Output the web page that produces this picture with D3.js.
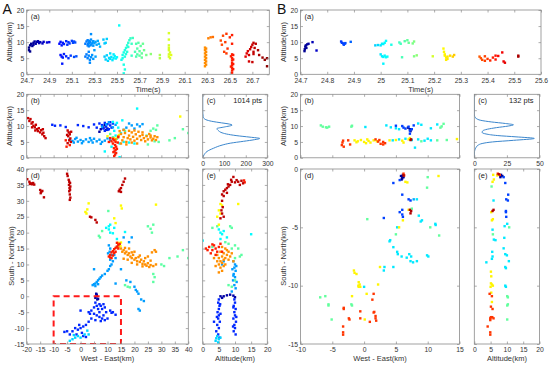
<!DOCTYPE html>
<html><head><meta charset="utf-8">
<script src="https://cdn.jsdelivr.net/npm/d3@7"></script>
<style>body{margin:0;background:#fff;} text{font-family:"Liberation Sans",Arial,Helvetica,sans-serif;}</style>
</head><body><svg id="c" width="550" height="365"></svg>
<script>
// ---------- tick labels ----------
const A_timeTicks = [24.7,24.9,25.1,25.3,25.5,25.7,25.9,26.1,26.3,26.5,26.7];
const B_timeTicks = [24.7,24.8,24.9,25.0,25.1,25.2,25.3,25.4,25.5,25.6];
const altTicks = [0,5,10,15,20];
const A_weTicks = [-20,-15,-10,-5,0,5,10,15,20,25,30,35,40];
const A_snTicks = [-15,-10,-5,0,5,10,15,20,25,30,35,40];
const A_cntTicks = [0,100,200,300];
const B_weTicks = [-10,-5,0,5,10,15];
const B_snTicks = [-15,-10,-5,0];
const B_cntTicks = [0,25,50];
const A_pts = "1014 pts";
const B_pts = "132 pts";

// ---------- A (a): [time, altitude] ----------
const A_a = [
[24.72,7.5],[24.72,8.3],[24.73,9.0],[24.74,9.5],[24.75,8.8],[24.76,9.8],[24.77,10.2],[24.78,9.5],[24.80,10.3],[24.81,9.7],[24.82,10.0],[24.84,9.6],[24.85,10.1],[24.88,9.9],[24.90,10.0],[24.73,7.1],[24.76,9.2],[24.79,10.1],
[24.99,9.5],[25.00,10.1],[25.01,9.0],[25.02,9.8],[25.03,9.4],[25.05,10.3],[25.06,9.2],[25.07,10.0],[25.08,9.6],[25.10,10.4],[25.11,9.8],[25.12,10.2],[25.13,9.9],[25.00,6.0],[25.01,5.5],[25.02,5.2],[25.03,6.3],[25.05,5.6],[25.07,5.0],[25.09,5.8],[25.12,5.4],[25.14,5.6],[25.015,3.3],
[25.22,9.5],[25.23,10.2],[25.24,9.0],[25.24,10.6],[25.25,9.8],[25.25,8.7],[25.26,10.0],[25.27,9.3],[25.27,10.8],[25.28,9.6],[25.29,8.9],[25.29,10.3],[25.30,9.7],[25.31,10.1],[25.32,9.2],[25.33,10.4],[25.34,9.5],[25.35,8.6],[25.27,12.5],[25.38,10.8],[25.39,9.6],[25.41,11.0],[25.40,9.8],[25.22,5.5],[25.23,6.2],[25.24,5.0],[25.25,5.8],[25.26,4.5],[25.27,5.3],[25.28,6.0],[25.29,4.8],[25.26,3.6],[25.31,5.5],[25.25,7.0],[25.30,7.5],[25.245,9.4],[25.265,9.0],[25.285,10.0],[25.255,10.4],
[25.39,5.5],[25.40,4.6],[25.41,5.9],[25.42,4.2],[25.43,5.1],[25.44,4.8],[25.45,5.4],[25.46,4.4],[25.47,5.0],[25.48,5.7],[25.49,4.9],[25.50,5.3],[25.44,6.5],[25.47,6.2],[25.52,15.2],[25.56,0.3],
[25.54,4.5],[25.55,5.0],[25.55,6.0],[25.56,3.0],[25.56,6.8],[25.57,5.5],[25.57,7.5],[25.58,8.2],[25.58,6.3],[25.59,9.0],[25.59,7.0],[25.60,9.8],[25.60,8.5],[25.61,10.6],[25.62,11.2],[25.63,9.5],[25.57,1.5],[25.64,11.3],[25.63,5.8],
[25.66,7.0],[25.67,9.5],[25.67,5.5],[25.68,8.0],[25.68,6.2],[25.69,9.8],[25.70,7.2],[25.70,5.8],[25.71,8.8],[25.72,6.5],[25.73,9.5],[25.74,7.5],[25.76,6.0],[25.80,6.3],[25.72,5.2],
[25.88,6.0],[25.88,5.0],[25.96,12.8],[25.96,10.8],[25.96,9.0],[25.96,7.5],[25.96,6.2],[25.96,5.5],[25.97,6.8],[25.97,5.0],[25.98,6.0],[25.96,8.2],
[26.28,2.5],[26.28,3.5],[26.28,4.5],[26.28,5.5],[26.28,6.5],[26.28,7.5],[26.28,8.3],[26.29,3.0],[26.29,4.0],[26.29,5.0],[26.29,6.0],[26.29,7.0],[26.29,8.0],[26.31,11.2],[26.33,11.5],[26.35,11.6],
[26.42,10.5],[26.43,9.2],[26.44,12.0],[26.45,7.0],[26.46,10.0],[26.47,12.6],[26.47,6.5],[26.48,8.0],[26.50,11.5],[26.52,12.2],[26.52,9.5],[26.53,6.0],[26.52,0.5],[26.52,1.2],[26.52,2.0],[26.52,2.8],[26.52,3.5],[26.52,4.3],[26.52,5.0],[26.53,1.6],[26.53,3.2],[26.53,4.6],[26.51,2.4],[26.51,5.6],[26.52,6.2],
[26.64,5.5],[26.65,6.5],[26.66,7.2],[26.67,6.0],[26.67,4.0],[26.68,7.8],[26.69,8.5],[26.70,9.2],[26.71,7.0],[26.71,9.8],[26.72,8.2],[26.73,9.5],[26.71,6.3],[26.76,6.0],[26.79,5.2],[26.81,4.5],[26.83,2.5],[26.83,5.0],[26.70,3.8],[26.75,7.5]
];

// ---------- A (b): groups [time, [[west-east, altitude]...]] ----------
const A_b = [
[24.78,[[7.5,9.0],[8,10.0],[8.5,9.5],[9,10.3],[9.5,8.8],[7,8.2],[10,9.2]]],
[25.05,[[-10.5,10.4],[-9.5,10.1],[-7.5,10.2],[-5.5,9.7],[-1,10.3],[1,10.0],[3,9.6],[5,10.5],[6,9.5],[7,10.8],[8,10.3],[8.5,9.2],[9,11.0],[9.5,9.8],[10,10.6],[10.5,9.0],[11,10.2],[11.5,9.5],[12,10.8],[9,8.5],[10,8.8],[11,11.2]]],
[25.3,[[-4,5.8],[-3,5.3],[-2,5.9],[-1,5.1],[0,5.6],[1,5.2],[2,5.8],[3,5.0],[4,5.5],[5,6.0],[6,5.2],[7,5.7],[8,5.0],[9,5.4],[10,6.1],[-2.5,4.8],[0.5,4.6],[4.5,4.8],[7.5,4.4],[-1.5,6.3],[3.5,6.2],[11,5.5],[8,9.8],[9.5,10.5],[10.5,11.2],[12,9.6],[13,10.4],[18,10.8],[19,10.2],[21,10.5],[22,9.9],[23,10.6],[17,9.5],[20,9.2],[16,8.8]]],
[25.5,[[12,11.3],[13.5,11.0],[14,9.5],[12.5,8.5],[15,7.8],[13,7.0],[14.5,4.5],[11.5,3.5],[16,5.0],[18,4.8],[20,4.5],[15.5,11.8],[21,15.5],[13,1.5],[14.5,0.2],[9,2.0]]],
[25.7,[[11,7.5],[12,6.5],[13.5,6.0],[16.5,8.5],[24.5,7.0],[26,8.5],[27,9.2],[28,8.8],[28.5,10.2],[27.5,5.2],[29,5.0],[33,5.5],[35,6.2],[38,9.0],[40,7.8],[25,4.2]]],
[26.05,[[12.5,6.2],[13,5.8],[13.8,6.5],[14.2,7.2],[10,6.8],[37,13.0]]],
[26.28,[[13,5.8],[14,6.8],[15,7.5],[15.5,5.5],[16,6.5],[16.5,7.8],[17,5.0],[17.5,6.2],[18,7.0],[18.5,5.8],[19,8.0],[19.5,6.6],[20,5.4],[20.5,7.4],[21,6.0],[21.5,8.2],[22,6.8],[22.5,5.6],[23,7.2],[23.5,6.2],[24,5.2],[24.5,6.8],[25,5.8],[25.5,7.5],[26,6.4],[26.5,5.5],[27,6.0],[27.5,6.8],[28,5.6],[15,4.5],[17,4.2],[19,4.8],[21,4.5],[14.5,8.4],[16,8.8],[18,8.5],[20,8.6],[23,8.0],[26,7.0],[28.5,6.5]]],
[26.52,[[12,6.0],[12.5,5.5],[13,5.0],[12,4.5],[12.8,4.0],[13.2,3.5],[12.4,3.0],[13,2.5],[12.6,2.0],[13.2,1.5],[12.8,1.0],[12.5,0.5],[11.5,5.2],[13.8,4.8],[11,6.2],[14,6.5],[10.5,5.0],[13.5,2.8],[12.2,1.8],[-5.5,5.5],[-4,4.0],[-5.2,3.5]]],
[26.7,[[-19.5,12.5],[-19,11.6],[-18.6,12.2],[-18.2,10.8],[-17.8,11.2],[-17.5,10.1],[-17,9.6],[-16.6,10.4],[-16.2,9.0],[-15.8,8.4],[-15.5,9.3],[-15,8.0],[-14.6,8.7],[-14.2,7.4],[-13.8,7.9],[-13.5,6.8],[-13,6.2],[-14,9.0],[-16.8,8.6],[-18,9.6],[-4.8,8.6],[-4.4,8.0],[-4.0,7.4],[-4.6,6.8],[-3.8,6.1],[-4.2,5.5],[-3.6,5.0],[-4.8,4.6],[-5,7.2],[-3.5,8.2]]]
];

// ---------- A (c): [altitude, count] ----------
const A_c = [[0,0],[0.5,3],[1.4,11],[2,20],[3,50],[4,90],[4.6,128],[5.2,190],[5.7,240],[6.1,265],[6.5,220],[7,155],[7.5,110],[8,85],[8.5,74],[9.2,66],[9.7,100],[10.3,137],[10.7,118],[11,88],[11.5,42],[12,15],[12.5,5],[13,2],[14,0.5],[15,0],[20,0]];

// ---------- A (d): groups [time, [[west-east, south-north]...]] ----------
const A_d = [
[24.78,[[6,0.5],[6,0],[5.5,-0.5],[6.2,-1],[5.8,0.8],[6.5,-0.8]]],
[25.05,[[5.5,-2],[6,-3],[5,-3.5],[7,-2.5],[7.5,-3],[8,-4],[9,-3.5],[9.5,-5],[11,-4.5],[12,-5],[4,-4.5],[3.5,-5.5],[5,-5.5],[6,-6],[7,-6.5],[8,-7],[9,-7.5],[10,-7],[5.5,-7.5],[4,-7],[3,-8],[2,-9],[1,-9.5],[0,-10],[-0.5,-9],[-1,-10.5],[-2,-10],[-3,-11],[-5,-11],[-6,-11.2],[-4,-12],[0.5,-11.5],[1,-12.5],[2,-12.8],[-1.5,-12],[7.5,-7.8],[3,-5],[8.5,-2.5],[11.5,-5.2],[13,-5.8],[0,-4.5],[6.5,-4],[7,-5],[8.5,-6]]],
[25.3,[[10.5,16],[11,15],[10.8,14],[11.5,13],[10.2,13.5],[12,11],[11.5,10],[11,9.5],[10.5,8.5],[10,8],[9,7],[8,6.5],[7.5,6],[7,5.5],[6.5,5],[6,4.5],[5.5,4],[5,3.8],[4.5,3.5],[5.5,3.2],[6.5,3.8],[5,8.5],[19,18.5],[18,17],[17,5],[18.5,4.5],[20,3],[20.5,2],[21,1.5],[21.5,0.8],[22.5,-1],[23.5,-1.5],[22,-4.5],[21.5,-4],[14.5,16],[13.5,15.5],[13,4],[15,8.5],[12.5,13],[13,12],[11,11.5],[16,18.5]]],
[25.42,[[-3,-13.5],[-2,-13],[-1,-12.5],[0,-13],[1.5,-12],[-4,-14],[2.5,-10.8],[3,-12],[-2.5,-12.2]]],
[25.5,[[9.5,21.5],[10.5,22],[11,22.5],[10.5,21],[11,20],[12,19.8],[13.5,18],[16.5,20.2],[12.5,21.5]]],
[25.7,[[10.3,26.8],[6.8,19],[7.2,18.5],[8,20.5],[25,22],[26,21.2],[27,22.5],[26.5,20],[27,7],[27.5,6],[27,4.5],[38,14.5],[40,12],[36,12.5],[33,12],[30,10],[31,9.5],[16.5,3.5],[17.5,3],[18.3,2.8]]],
[26.05,[[1.8,26.5],[2.2,26],[3,29.2],[2.5,27.3],[15,28.5],[15.3,27.6],[28,28.8],[12.5,24.5],[13,23],[14,16.8],[15,16.9],[14.8,15.8]]],
[26.28,[[14,15.5],[15,15],[15.5,14],[16,14.5],[16.5,13.5],[17,14],[17.5,13],[18,13.5],[18.5,12.5],[19,12],[19.5,13],[20,11.5],[20.5,12],[21,11],[21.5,12.3],[22,10.8],[22.5,11.5],[23,10.2],[23.5,11],[24,10],[24.5,9.6],[25,10.4],[25.5,9.2],[26,9.8],[27,9.5],[28,10],[27.5,14.5],[28,14],[26.5,13.8],[25,12.5],[19,10.5],[21,10],[16,11.8],[17.5,11.5],[18,15],[20,14],[22,12.8],[24,12],[23,9.4],[26,11.2],[16.5,15.2],[19,13.8]]],
[26.52,[[10.5,12.5],[11,13],[11.5,13.8],[12,14.2],[12.5,14.8],[13,15.2],[13.5,15.6],[14,16.2],[14.5,16.5],[12,12.8],[13,14],[11.5,12],[14,15],[13.5,16.8],[12.5,13.6],[11,12.2]]],
[26.72,[[-19.8,36.8],[-19,36],[-18.5,35.5],[-18,35.2],[-17.6,35.6],[-17.2,35.1],[-18.8,35.3],[-15,33.4],[-14.6,32.8],[-14.2,33.1],[-14.8,32.4],[-13.6,31.1],[-5,38.5],[-4.8,37.8],[-4.4,36.6],[-4.2,36],[-3.9,35.6],[-4.3,35],[-3.8,34.5],[-4.1,34],[-3.9,33.5],[-4.2,33],[-4,32],[-3.8,31],[-4,30.3],[16.5,37],[16,36],[15.5,35],[15,34],[14.5,33.5],[14.2,33],[15,32.8],[3.5,25],[4,24.8],[5.5,24],[6,23.2]]]
];

// ---------- A (e): groups [time, [[altitude, south-north]...]] ----------
const A_e = [
[24.78,[[5.5,0],[6.5,0],[7.5,0.3],[8.5,0.5],[9.5,0.2],[10,-0.3],[6,-0.5]]],
[25.05,[[5,-1],[4.8,-2],[5.2,-3],[5,-4],[4.6,-5],[5,-6],[4.8,-7],[5.3,-8],[4.5,-9],[5,-10],[4.2,-11],[4.8,-12],[5.2,-13],[3.5,-8],[5.5,-5.5],[9.8,-1],[10,-2],[9.6,-3],[10.2,-4],[9.8,-5],[10,-6],[9.5,-7],[10.3,-8],[9.8,-9],[10,-10],[9.6,-11],[10.2,-12],[9.5,-3.5],[5.4,-2.5],[4.4,-6.5],[10.4,-6.5],[9.4,-9.5]]],
[25.3,[[9.5,11],[10,10],[9.8,9],[10.2,8],[9.6,7],[10,6],[9.4,5],[10.5,4.5],[9.8,3.5],[10.2,2.5],[9,1.5],[9.5,6.5],[6.5,11],[6,10],[10.4,9.5],[9.2,8.5]]],
[25.42,[[4.5,-12.5],[5,-13.5],[4,-14],[5.5,-13],[4.8,-14.5],[4.2,-13.2]]],
[25.5,[[5,21],[5.5,20],[6,19.5],[6.5,20.5],[15,19.5],[0,17.5],[7.5,18.5],[5.5,18]]],
[25.7,[[3,21.5],[4.5,22],[8.5,22],[9,21.5],[10,16],[11,15],[12,13],[11.5,12.5],[9,15],[10,12],[7,17],[8,16.5],[8,3.5],[9,3],[10,5],[3,15.5]]],
[26.05,[[5.5,29],[6,28.5],[5,27],[5.5,26],[4.5,25],[11,29],[5,22.5]]],
[26.28,[[5,12],[5.5,11],[6,12.5],[6.5,11.5],[7,12],[7.5,13],[5,10],[6,10.5],[7,10],[8,11.5],[8.5,12.5],[9,13.5],[5.5,9],[4.5,11],[6.5,9.5],[7.5,14.5],[6,15.5],[8,14],[4,9.5],[3.5,12],[9.5,11],[6.5,13.5],[5.5,14],[7,15],[4.5,13],[5,7.5],[6,8]]],
[26.52,[[1,15],[2,15.5],[3,14.5],[3.5,16],[4,15],[4.5,14],[5,15.5],[2.5,13.5],[4,13],[5.5,16.5],[1.5,14.5],[6,14],[3,16.3],[13,35.8],[12.8,36.4]]],
[26.72,[[9,36],[10,35.8],[11,36],[12,36.3],[12.5,35.5],[8.5,35],[7.5,34],[7,33.5],[6.5,33],[6,32],[6.5,31.5],[7.5,32.5],[8,34.5],[11.5,35],[10.5,36.5],[9.5,37.5],[6,30],[6.2,28],[5.8,27],[6,26],[6.5,25],[5.5,24.5],[8.8,36.6],[7.8,35.2]]]
];

// ---------- B (a): [time, altitude] ----------
const B_a = [
[24.715,7.2],[24.716,7.8],[24.718,8.6],[24.72,9.0],[24.722,8.2],[24.725,9.3],[24.73,9.5],[24.745,10.0],[24.76,7.4],
[24.852,10.2],[24.855,9.8],[24.86,9.6],[24.862,9.2],[24.865,9.5],[24.868,9.7],[24.888,10.1],
[24.98,9.0],[24.99,9.1],[25.0,9.0],[25.01,9.4],[25.015,9.8],[25.02,10.4],[25.04,9.2],[25.005,9.5],[25.0,6.2],[25.005,5.6],[25.01,5.4],[25.015,5.8],[25.02,5.3],[25.025,5.5],[25.01,3.3],
[25.07,9.9],[25.075,9.5],[25.09,10.3],[25.1,10.6],[25.105,9.8],[25.12,9.6],[25.125,10.2],[25.08,5.3],[25.125,5.6],[25.135,5.9],
[25.195,5.6],[25.235,8.0],[25.237,7.0],[25.24,6.2],[25.24,5.8],[25.245,5.2],[25.25,4.8],[25.25,5.5],[25.26,5.8],[25.27,5.5],[25.275,6.0],[25.245,4.5],
[25.37,5.5],[25.375,5.0],[25.38,4.5],[25.39,4.2],[25.39,5.6],[25.4,4.8],[25.41,4.3],[25.42,5.2],[25.43,5.8],[25.43,4.6],[25.455,6.8],[25.46,4.0],[25.465,3.6],[25.44,5.7],
[25.515,5.5],[25.515,5.8]
];

// ---------- B (b): groups [time, [[west-east, altitude]...]] ----------
const B_b = [
[24.72,[[7.2,9.0],[7.3,8.4],[6.9,9.5]]],
[24.86,[[6,10],[6.5,9.2],[7,9.8],[7.5,9.0],[7.2,8.6],[6.2,9.5],[7.8,10.2],[5,10.1],[7.2,7.6]]],
[25.0,[[0.2,9.7],[4.5,5.5],[5.5,5.8],[6.5,6.0],[7.5,5.6],[8.5,5.8],[9.5,5.4],[10,6.0],[10.5,5.5],[8,3.2],[3.5,10.2],[5,9.3],[5.5,9.0],[8.5,10.8],[9,10.4],[10.5,9.3],[11.5,10.5],[4.2,9.6]]],
[25.1,[[-6.8,10.2],[-6.5,9.8],[-6,9.6],[-5.5,9.8],[-5.8,9.5],[-1.9,10.1],[-2,9.8],[9,5.2],[11.5,5.5],[12,9.5],[12.2,9.9],[12.5,10.7],[13,5.6]]],
[25.24,[[-1.5,5.5],[-1,5.2],[-0.5,5.6],[0,5.0],[0.3,4.6],[0.7,5.3],[1.0,4.8],[1.5,5.5],[2,5.2],[-1.2,4.9],[0.5,5.8],[4,5.5],[5,5.6],[6,5.4],[7,5.8],[6.2,4.8],[14.6,5.9],[7.2,6.2]]],
[25.4,[[-3.5,4.0],[-3.4,4.8],[-3.3,5.4],[-2.5,5.5],[-2.2,4.2],[-3.2,3.5],[1.8,5.8],[2.2,5.1],[2.6,4.4],[3,5.0],[3.3,4.6],[2.4,5.6],[3.0,4.2]]],
[25.51,[[7.3,5.6],[7.4,5.8]]]
];

// ---------- B (c): [altitude, count] ----------
const B_c = [[0,0],[2,0.2],[3,1],[4,3],[4.5,6],[5,14],[5.5,30],[6.1,46],[6.6,32],[7,18],[7.5,9],[8,6],[8.5,6.5],[9,10],[9.5,17],[10,26],[10.4,30],[10.8,24],[11.3,13],[11.8,5],[12.4,1.5],[13,0.3],[14,0],[20,0]];

// ---------- B (d): groups [time, [[west-east, south-north]...]] ----------
const B_d = [
[24.72,[[5.8,-0.6],[6.0,-0.8],[6.1,-0.5],[5.9,-0.9],[6.2,-0.7],[6.0,-0.65]]],
[24.86,[[4.6,-1.2],[5.6,-0.95],[6,-2.2],[7,-2.6],[7.3,-2.7],[6,-3.5],[5.6,-3.7],[6,-3.9],[6.1,-4.1],[3.1,-4.2]]],
[24.95,[[7.8,-2.6]]],
[25.0,[[8.3,-2.6],[8.6,-4.0],[9.1,-4.4],[8.9,-4.5],[11.2,-4.7],[11.25,-4.8],[5.2,-5.0],[4.1,-6.1],[4.0,-6.2],[4.6,-6.7],[5.2,-7.1],[5.3,-7.3],[5.9,-7.5],[6.7,-7.6],[7.1,-7.3],[7.4,-7.5],[7.3,-7.9],[7.7,-8.0],[8.3,-7.9],[9.9,-7.4],[10.1,-7.5],[3.2,-8.4],[3.1,-8.7],[4.6,-8.4],[0,-10.1]]],
[25.1,[[10,-0.7],[9.9,-1.6],[7.5,-3.4],[11.8,-5.7],[10.4,-5.0],[0.5,-4.3],[5.0,-5.6],[-6.9,-11.0],[-6.1,-10.9],[-5.6,-11.6],[-5.6,-11.7],[-5.1,-12.9],[-2,-11.6],[-1.9,-11.7]]],
[25.24,[[6.5,-1.1],[6.8,-1.15],[11.7,-0.6],[7.0,-3.5],[6.1,-4.4],[5.5,-5.0],[2.5,-8.4],[-1.6,-8.7],[-1.5,-8.9],[-1.2,-9.0],[-0.85,-9.7],[-0.7,-9.9],[-0.6,-10.1],[-0.85,-10.1],[2.2,-9.9],[0.4,-10.7],[-1.9,-10.9],[0.1,-12.9],[-0.9,-10.0]]],
[25.4,[[6.2,-0.4],[6.3,-0.55],[1.5,-10.7],[1.3,-11.2],[-3.2,-11.9],[-3.2,-12.0],[-2.4,-12.8],[-2.3,-12.9],[-0.6,-12.2],[-0.6,-12.8],[1.5,-12.3],[1.6,-12.25],[1.8,-12.6],[1.8,-12.8],[1.9,-13],[0.9,-13.1],[-3.3,-13.5],[-3.3,-14.0],[-3.3,-14.2]]],
[25.51,[[7.2,-3.5],[7.4,-3.6],[7.3,-3.8],[6.2,-0.55]]]
];

// ---------- B (e): groups [time, [[altitude, south-north]...]] ----------
const B_e = [
[24.72,[[8.2,-0.5],[8.6,-0.6],[8.0,-0.7]]],
[24.86,[[9.0,-0.7],[9.5,-1.2],[10.4,-2.2],[9.8,-2.6],[10.3,-2.7],[9.7,-3.6],[9.7,-3.7],[9.8,-4.1]]],
[25.0,[[5.9,-2.7],[10.1,-4.7],[9.3,-4.9],[5.6,-5.2],[9.2,-5.9],[6.5,-6.1],[6.0,-6.05],[5.5,-7.1],[5.6,-7.5],[5.4,-7.7],[3.7,-8.0],[9.0,-6.8],[9.5,-7.3],[10,-7.4],[10.6,-7.9],[9.5,-8.4],[9.7,-8.5],[9.5,-10.0],[9.7,-10.1]]],
[25.1,[[5.3,-1.5],[10.7,-5.0],[5.7,-5.6],[10.1,-10.9],[10.3,-11.0],[10.3,-11.6],[10.1,-11.7],[10.1,-12.9]]],
[25.24,[[7.0,-0.55],[5.8,-0.5],[6.0,-0.9],[5.6,-1.1],[5.2,-3.7],[5.4,-4.4],[5.7,-4.3],[5.1,-8.8],[5.2,-9.2],[5.1,-9.8],[5.4,-9.9],[5.0,-10.1],[5.7,-10.0],[5.2,-10.6],[5.4,-11.4]]],
[25.4,[[7.2,-0.4],[7.8,-0.5],[4.7,-10.7],[5.4,-10.9],[5.1,-11.8],[5.6,-12.0],[5.1,-12.7],[4.9,-12.8],[5.5,-12.7],[5.9,-12.8],[4.9,-12.95],[4.1,-13.5],[4.9,-14.0],[4.9,-14.2]]],
[25.51,[[7.5,-0.45],[5.6,-3.6],[5.9,-3.5]]]
];

// time range used for the jet colour map
const A_tRange = [24.7, 26.85];
const B_tRange = [24.7, 25.55];
// red dashed box in A(d): [[we0,we1],[sn0,sn1]]
const A_box = [[-10,15],[-15,0]];

// ---------- drawing ----------
const svg = d3.select("#c");
function jet(v){
  const c = u => Math.max(0, Math.min(1, u));
  return d3.rgb(255*c(1.5-Math.abs(4*v-3)), 255*c(1.5-Math.abs(4*v-2)), 255*c(1.5-Math.abs(4*v-1))).toString();
}
const AXC = "#8a8a8a", TXT = "#333";
let clipId = 0;

function panel(p){
  const g = svg.append("g");
  const x = d3.scaleLinear().domain(p.xd).range([p.x0, p.x1]);
  const y = d3.scaleLinear().domain(p.yd).range([p.y1, p.y0]);
  const id = "clip" + (clipId++);
  g.append("clipPath").attr("id", id).append("rect")
    .attr("x", p.x0).attr("y", p.y0).attr("width", p.x1-p.x0).attr("height", p.y1-p.y0);
  const body = g.append("g").attr("clip-path", `url(#${id})`);
  const fs = 6.8;
  function style(sel){
    sel.select(".domain").remove();
    sel.selectAll(".tick line").attr("stroke", AXC).attr("stroke-width", 0.7);
    sel.selectAll(".tick text").attr("fill", TXT).style("font-size", fs+"px")
      .style("font-family", '"Liberation Sans",Arial,sans-serif');
  }
  const fx = p.xfmt || (d => String(d));
  const fy = p.yfmt || (d => String(d));
  g.append("g").attr("transform", `translate(0,${p.y1})`)
    .call(d3.axisBottom(x).tickValues(p.xt).tickSizeInner(-2.5).tickSizeOuter(0).tickPadding(3.4)
      .tickFormat(p.xlabels ? fx : () => "")).call(style);
  g.append("g").attr("transform", `translate(0,${p.y0})`)
    .call(d3.axisTop(x).tickValues(p.xt).tickSizeInner(-2.5).tickSizeOuter(0).tickFormat(() => "")).call(style);
  g.append("g").attr("transform", `translate(${p.x0},0)`)
    .call(d3.axisLeft(y).tickValues(p.yt).tickSizeInner(-2.5).tickSizeOuter(0).tickPadding(2.4)
      .tickFormat(p.ylabels ? fy : () => "")).call(style);
  g.append("g").attr("transform", `translate(${p.x1},0)`)
    .call(d3.axisRight(y).tickValues(p.yt).tickSizeInner(-2.5).tickSizeOuter(0).tickFormat(() => "")).call(style);
  g.append("rect").attr("x", p.x0).attr("y", p.y0).attr("width", p.x1-p.x0).attr("height", p.y1-p.y0)
    .attr("fill", "none").attr("stroke", AXC).attr("stroke-width", 0.8);
  if (p.tag) g.append("text").attr("x", p.x0+4).attr("y", p.y0+9).attr("fill", "#222")
    .style("font-size", "7.5px").text(p.tag);
  return {g, body, x, y};
}

function dots(P, pts, tr){
  const s = 2.4;
  pts.sort((a,b) => a.t - b.t);
  P.body.selectAll("rect.d").data(pts).join("rect").attr("class","d")
    .attr("x", d => P.x(d.u) - s/2).attr("y", d => P.y(d.v) - s/2)
    .attr("width", s).attr("height", s)
    .attr("fill", d => jet((d.t - tr[0])/(tr[1]-tr[0])));
}
const fromTime = arr => arr.map(d => ({u:d[0], v:d[1], t:d[0]}));
const fromGroups = arr => arr.flatMap(([t, list]) => list.map(d => ({u:d[0], v:d[1], t})));

function density(P, data){
  P.body.append("path").datum(data)
    .attr("d", d3.line().x(d => P.x(d[1])).y(d => P.y(d[0])).curve(d3.curveMonotoneY))
    .attr("fill", "none").attr("stroke", "#3b86cc").attr("stroke-width", 1);
}
function label(x, y, txt, rot, size){
  const t = svg.append("text").attr("text-anchor", "middle").attr("fill", "#333")
    .style("font-size", (size||7.5)+"px").text(txt);
  if (rot) t.attr("transform", `translate(${x},${y}) rotate(-90)`).attr("dy", "0.35em");
  else t.attr("x", x).attr("y", y).attr("dy", "0.35em");
}

const f1 = d => d3.format(".1f")(d);
const fB = d => String(+d.toFixed(1));

// ===== A =====
const Aa = panel({x0:26.7,x1:269.3,y0:10,y1:74.3,xd:A_tRange,yd:[0,20],xt:A_timeTicks,yt:altTicks,xlabels:true,ylabels:true,xfmt:f1,tag:"(a)"});
dots(Aa, fromTime(A_a), A_tRange);
const Ab = panel({x0:26.7,x1:188.3,y0:94.3,y1:157.8,xd:[-20,40],yd:[0,20],xt:A_weTicks,yt:altTicks,xlabels:false,ylabels:true,tag:"(b)"});
dots(Ab, fromGroups(A_b), A_tRange);
const Ac = panel({x0:202.7,x1:267.3,y0:94.3,y1:157.8,xd:[0,300],yd:[0,20],xt:A_cntTicks,yt:altTicks,xlabels:true,ylabels:false,tag:"(c)"});
density(Ac, A_c);
Ac.g.append("text").attr("x", 262).attr("y", 103.3).attr("text-anchor","end").attr("fill","#222").style("font-size","7.5px").text(A_pts);
const Ad = panel({x0:26.7,x1:188.3,y0:169,y1:344,xd:[-20,40],yd:[-15,40],xt:A_weTicks,yt:A_snTicks,xlabels:true,ylabels:true,tag:"(d)"});
dots(Ad, fromGroups(A_d), A_tRange);
Ad.body.append("rect").attr("x", Ad.x(A_box[0][0])).attr("y", Ad.y(A_box[1][1]))
  .attr("width", Ad.x(A_box[0][1]) - Ad.x(A_box[0][0])).attr("height", Ad.y(A_box[1][0]) - Ad.y(A_box[1][1]))
  .attr("fill","none").attr("stroke","#ff1a1a").attr("stroke-width",2).attr("stroke-dasharray","6,4");
const Ae = panel({x0:202.7,x1:267.3,y0:169,y1:344,xd:[0,20],yd:[-15,40],xt:altTicks,yt:A_snTicks,xlabels:true,ylabels:false,tag:"(e)"});
dots(Ae, fromGroups(A_e), A_tRange);

label(9, 42, "Altitude(km)", true);
label(148, 89, "Time(s)");
label(9, 126, "Altitude(km)", true);
label(11.5, 256, "South - North(km)", true);
label(107.5, 358.5, "West - East(km)");
label(235, 358.5, "Altitude(km)");
svg.append("text").attr("x", 2.5).attr("y", 14).style("font-size","14px").attr("fill","#111").text("A");

// ===== B =====
const Ba = panel({x0:300.5,x1:541,y0:10,y1:74.3,xd:[24.7,25.6],yd:[0,20],xt:B_timeTicks,yt:altTicks,xlabels:true,ylabels:true,xfmt:fB,tag:"(a)"});
dots(Ba, fromTime(B_a), B_tRange);
const Bb = panel({x0:300.5,x1:459.5,y0:94.3,y1:157.8,xd:[-10,15],yd:[0,20],xt:B_weTicks,yt:altTicks,xlabels:false,ylabels:true,tag:"(b)"});
dots(Bb, fromGroups(B_b), B_tRange);
const Bc = panel({x0:474.3,x1:539.5,y0:94.3,y1:157.8,xd:[0,50],yd:[0,20],xt:B_cntTicks,yt:altTicks,xlabels:true,ylabels:false,tag:"(c)"});
density(Bc, B_c);
Bc.g.append("text").attr("x", 533.5).attr("y", 103.3).attr("text-anchor","end").attr("fill","#222").style("font-size","7.5px").text(B_pts);
const Bd = panel({x0:300.5,x1:459.5,y0:169,y1:344,xd:[-10,15],yd:[-15,0],xt:B_weTicks,yt:B_snTicks,xlabels:true,ylabels:true,tag:"(d)"});
dots(Bd, fromGroups(B_d), B_tRange);
const Be = panel({x0:474.3,x1:539.5,y0:169,y1:344,xd:[0,20],yd:[-15,0],xt:altTicks,yt:B_snTicks,xlabels:true,ylabels:false,tag:"(e)"});
dots(Be, fromGroups(B_e), B_tRange);

label(283, 42, "Altitude(km)", true);
label(420.7, 89, "Time(s)");
label(283, 126, "Altitude(km)", true);
label(283.5, 256, "South - North(km)", true);
label(380, 358.5, "West - East(km)");
label(507, 358.5, "Altitude(km)");
svg.append("text").attr("x", 277).attr("y", 14).style("font-size","14px").attr("fill","#111").text("B");
</script></body></html>
